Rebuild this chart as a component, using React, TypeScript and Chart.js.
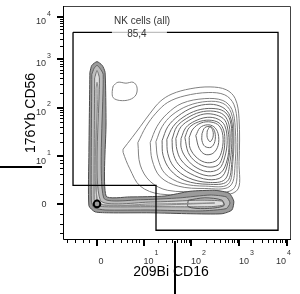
import React, { useEffect, useRef } from 'react';
import { Chart, registerables } from 'chart.js';
Chart.register(...registerables);

type P = [number, number];

// Axes are biexponential: values are in display units (0 = zero, k = 10^k)
const X_MIN = -0.716, X_MAX = 4.084;
const Y_MIN = -0.771, Y_MAX = 4.229;
const xTickPos = [0, 0.98, 1.98, 2.99, 4.0];
const yTickPos = [0, 1.02, 2.06, 3.1, 4.0];
const tickBase = ['0', '10', '10', '10', '10'];
const tickExp = ['', '1', '2', '3', '4'];
const xMinorLinear = [-0.63, -0.46, -0.29, -0.17, 0.17, 0.34, 0.51, 0.63, 0.74, 0.82, 0.88];
const yMinorLinear = [-0.63, -0.42, -0.21, 0.21, 0.42, 0.63, 0.77, 0.875, 0.94];
const xTitle = '209Bi CD16';
const yTitle = '176Yb CD56';
const gateName = 'NK cells (all)';
const gateFreq = '85,4';
const gateLabelX = 0.84;
const gateNameX = 0.95;

const gate: P[] = [[-0.505, 3.667], [3.811, 3.667], [3.811, -0.5625], [1.242, -0.5625], [1.242, 0.396], [-0.505, 0.396], [-0.505, 3.667]];

// CD16- CD56+ column and CD56- CD16 row (L-shaped band)
const band1: P[] = [[-0.15, 2.81], [-0.11, 2.96], [0, 3.04], [0.11, 2.96], [0.17, 2.81], [0.19, 1.73], [0.19, 0.17], [0.69, 0.15], [1.43, 0.17], [1.96, 0.27], [2.48, 0.29], [2.78, 0.23], [2.88, 0.06], [2.84, -0.13], [2.63, -0.21], [1.96, -0.21], [1.12, -0.19], [0.27, -0.19], [-0.04, -0.17], [-0.17, -0.04], [-0.17, 1.10]];
const band2: P[] = [[-0.11, 2.77], [-0.06, 2.90], [0, 2.96], [0.06, 2.90], [0.13, 2.77], [0.14, 0.13], [0.91, 0.09], [1.75, 0.13], [2.38, 0.19], [2.72, 0.15], [2.80, 0.02], [2.72, -0.10], [2.17, -0.15], [1.12, -0.13], [0.17, -0.13], [-0.06, -0.08], [-0.12, 0.06]];
const band3: P[] = [[-0.05, 2.69], [0, 2.85], [0.05, 2.69], [0.07, 0.08], [1.12, 0.04], [2.17, 0.08], [2.63, 0.06], [2.67, -0.02], [2.38, -0.06], [1.12, -0.06], [0.15, -0.06], [-0.02, -0.02], [-0.06, 0.10]];
const band4: P[] = [[-0.02, 2.46], [0, 2.60], [0.02, 2.46], [0.03, 0.04], [1.12, 0], [2.48, 0.02], [1.12, -0.03], [0.06, -0.02], [-0.01, 0.02]];
const bandLow: P[] = [[1.92, 0.08], [2.27, 0.13], [2.63, 0.08], [2.67, -0.04], [2.27, -0.10], [1.92, -0.06]];

// small isolated island
const island: P[] = [[0.34, 2.52], [0.44, 2.60], [0.61, 2.58], [0.76, 2.60], [0.84, 2.50], [0.82, 2.33], [0.69, 2.23], [0.48, 2.21], [0.34, 2.27], [0.32, 2.40]];

// CD16+ CD56dim population rings (outer to inner)
const blob1: P[] = [[0.55, 1.17], [0.74, 1.42], [0.91, 1.65], [1.12, 1.94], [1.33, 2.19], [1.58, 2.35], [1.96, 2.46], [2.38, 2.50], [2.72, 2.44], [2.91, 2.25], [2.99, 1.83], [2.99, 0.90], [2.93, 0.27], [2.17, 0.21], [1.33, 0.21], [0.91, 0.38], [0.69, 0.75], [0.55, 1.10]];
const blob2: P[] = [[0.86, 1.31], [1.03, 1.65], [1.24, 1.94], [1.49, 2.17], [1.85, 2.31], [2.34, 2.38], [2.69, 2.33], [2.88, 2.13], [2.95, 1.73], [2.95, 0.90], [2.86, 0.31], [2.17, 0.27], [1.49, 0.29], [1.12, 0.48], [0.91, 0.83]];
const blob3: P[] = [[1.12, 1.31], [1.26, 1.65], [1.47, 1.92], [1.79, 2.15], [2.27, 2.25], [2.65, 2.21], [2.84, 2.02], [2.91, 1.63], [2.91, 0.90], [2.80, 0.38], [2.27, 0.33], [1.71, 0.38], [1.33, 0.58], [1.16, 0.94]];
const blob3b: P[] = [[1.24, 1.33], [1.37, 1.65], [1.58, 1.90], [1.92, 2.10], [2.32, 2.19], [2.65, 2.15], [2.82, 1.96], [2.88, 1.56], [2.86, 0.90], [2.76, 0.42], [2.29, 0.38], [1.79, 0.44], [1.43, 0.65], [1.28, 0.98]];
const blob4: P[] = [[1.37, 1.35], [1.49, 1.65], [1.71, 1.88], [2.02, 2.06], [2.38, 2.13], [2.65, 2.06], [2.80, 1.88], [2.86, 1.52], [2.84, 0.90], [2.74, 0.48], [2.34, 0.42], [1.85, 0.50], [1.54, 0.73], [1.39, 1.04]];
const blob4b: P[] = [[1.47, 1.38], [1.60, 1.65], [1.81, 1.85], [2.11, 2.00], [2.42, 2.04], [2.67, 1.98], [2.80, 1.79], [2.84, 1.42], [2.80, 0.90], [2.69, 0.52], [2.34, 0.46], [1.92, 0.56], [1.62, 0.79], [1.49, 1.08]];
const blob5: P[] = [[1.58, 1.38], [1.68, 1.65], [1.89, 1.83], [2.17, 1.96], [2.46, 1.98], [2.67, 1.90], [2.78, 1.69], [2.80, 1.31], [2.76, 0.90], [2.63, 0.58], [2.34, 0.52], [1.96, 0.65], [1.71, 0.85], [1.60, 1.10]];
const blob5b: P[] = [[1.66, 1.40], [1.77, 1.65], [1.98, 1.81], [2.25, 1.92], [2.51, 1.90], [2.69, 1.79], [2.76, 1.56], [2.78, 1.27], [2.74, 0.94], [2.61, 0.67], [2.34, 0.60], [2.00, 0.73], [1.77, 0.94], [1.68, 1.17]];
const blob6: P[] = [[1.77, 1.40], [1.87, 1.63], [2.06, 1.77], [2.32, 1.85], [2.55, 1.81], [2.69, 1.67], [2.74, 1.35], [2.69, 1.00], [2.57, 0.75], [2.32, 0.69], [2.04, 0.81], [1.85, 1.02], [1.77, 1.21]];
const blob6b: P[] = [[1.85, 1.42], [1.94, 1.63], [2.13, 1.75], [2.36, 1.79], [2.57, 1.73], [2.67, 1.56], [2.69, 1.31], [2.65, 1.04], [2.55, 0.83], [2.32, 0.79], [2.08, 0.90], [1.92, 1.10]];
const blob7: P[] = [[1.94, 1.42], [2.02, 1.60], [2.19, 1.73], [2.40, 1.75], [2.57, 1.67], [2.65, 1.46], [2.63, 1.15], [2.53, 0.94], [2.32, 0.88], [2.11, 0.98], [1.96, 1.19]];
const blob8: P[] = [[2.08, 1.46], [2.17, 1.63], [2.32, 1.69], [2.46, 1.65], [2.55, 1.50], [2.55, 1.25], [2.44, 1.08], [2.27, 1.06], [2.15, 1.19]];
const blob9: P[] = [[2.21, 1.50], [2.27, 1.63], [2.40, 1.65], [2.48, 1.54], [2.48, 1.33], [2.40, 1.21], [2.27, 1.23], [2.21, 1.35]];
const blob10: P[] = [[2.32, 1.56], [2.38, 1.65], [2.44, 1.56], [2.44, 1.42], [2.38, 1.33], [2.32, 1.42]];

const origin: P[] = [[0, 0]];

const FONT = '"Liberation Sans", Arial, sans-serif';

function ring(pts: P[], color: string, width = 1, fillColor?: string, tension = 0.35) {
  return {
    data: [...pts, pts[0]].map(([x, y]) => ({ x, y })),
    showLine: true,
    borderColor: color,
    borderWidth: width,
    pointRadius: 0,
    tension,
    fill: fillColor ? 'shape' : false,
    backgroundColor: fillColor ?? 'transparent',
  };
}

const deco = {
  id: 'deco',
  afterDraw(chart: any) {
    const { ctx, chartArea: a, scales } = chart;
    const x = scales.x, y = scales.y;
    ctx.save();
    // frame
    ctx.lineWidth = 1;
    ctx.strokeStyle = '#444';
    ctx.beginPath();
    ctx.moveTo(a.left + 0.5, a.top + 0.5);
    ctx.lineTo(a.right - 0.5, a.top + 0.5);
    ctx.lineTo(a.right - 0.5, a.bottom - 0.5);
    ctx.stroke();
    ctx.strokeStyle = '#000';
    ctx.beginPath();
    ctx.moveTo(a.left + 0.5, a.top);
    ctx.lineTo(a.left + 0.5, a.bottom - 0.5);
    ctx.lineTo(a.right, a.bottom - 0.5);
    ctx.stroke();

    // minor ticks
    const xMinor = [...xMinorLinear];
    const yMinor = [...yMinorLinear];
    for (let k = 1; k < 4; k++) {
      for (let m = 2; m <= 9; m++) {
        xMinor.push(xTickPos[k] + Math.log10(m) * (xTickPos[k + 1] - xTickPos[k]));
        yMinor.push(yTickPos[k] + Math.log10(m) * (yTickPos[k + 1] - yTickPos[k]));
      }
    }
    ctx.strokeStyle = '#000';
    ctx.lineWidth = 1;
    ctx.beginPath();
    xMinor.forEach((v) => {
      const px = Math.round(x.getPixelForValue(v)) + 0.5;
      ctx.moveTo(px, a.bottom);
      ctx.lineTo(px, a.bottom + 3);
    });
    yMinor.forEach((v) => {
      const py = Math.round(y.getPixelForValue(v)) + 0.5;
      ctx.moveTo(a.left - 3, py);
      ctx.lineTo(a.left, py);
    });
    ctx.stroke();
    // major ticks
    ctx.lineWidth = 2;
    ctx.beginPath();
    xTickPos.forEach((v) => {
      const px = Math.round(x.getPixelForValue(v));
      ctx.moveTo(px, a.bottom);
      ctx.lineTo(px, a.bottom + 6);
    });
    yTickPos.forEach((v) => {
      const py = Math.round(y.getPixelForValue(v));
      ctx.moveTo(a.left - 6, py);
      ctx.lineTo(a.left, py);
    });
    ctx.stroke();

    // tick labels
    ctx.fillStyle = '#333';
    ctx.textBaseline = 'middle';
    xTickPos.forEach((v, i) => {
      const px = x.getPixelForValue(v);
      ctx.font = `9px ${FONT}`;
      const wb = ctx.measureText(tickBase[i]).width;
      if (!tickExp[i]) {
        ctx.textAlign = 'center';
        ctx.fillText(tickBase[i], px + 4, a.bottom + 22);
        return;
      }
      ctx.font = `7px ${FONT}`;
      const we = ctx.measureText(tickExp[i]).width;
      let left = px + 5 - wb / 2;
      const total = wb + 1 + we;
      if (left + total > a.right) left = a.right - total;
      ctx.textAlign = 'left';
      ctx.font = `9px ${FONT}`;
      ctx.fillText(tickBase[i], left, a.bottom + 22);
      ctx.font = `7px ${FONT}`;
      ctx.fillText(tickExp[i], left + wb + 1, a.bottom + 13);
    });
    yTickPos.forEach((v, i) => {
      const py = y.getPixelForValue(v);
      ctx.font = `9px ${FONT}`;
      ctx.textAlign = 'right';
      if (!tickExp[i]) {
        ctx.fillText(tickBase[i], a.left - 16.5, py + 1);
        return;
      }
      ctx.fillText(tickBase[i], a.left - 17, py + 5);
      ctx.font = `7px ${FONT}`;
      ctx.textAlign = 'left';
      ctx.fillText(tickExp[i], a.left - 16, py - 3);
    });

    // axis titles
    ctx.fillStyle = '#000';
    ctx.font = `14px ${FONT}`;
    ctx.textAlign = 'center';
    ctx.fillText(xTitle, 171, 272);
    ctx.save();
    ctx.translate(31, 113);
    ctx.rotate(-Math.PI / 2);
    ctx.fillText(yTitle, 0, 0);
    ctx.restore();

    // gate labels
    const gy = y.getPixelForValue(gate[0][1]);
    const gx = x.getPixelForValue(gateLabelX);
    ctx.fillStyle = 'rgba(255,255,255,0.75)';
    ctx.fillRect(gx - 25, gy - 2, 55, 4);
    ctx.fillStyle = '#333';
    ctx.font = `10px ${FONT}`;
    ctx.fillText(gateFreq, gx, gy + 2);
    ctx.fillText(gateName, x.getPixelForValue(gateNameX), gy - 11);

    // stray panel lines from the original figure
    ctx.strokeStyle = '#000';
    ctx.lineWidth = 2;
    ctx.beginPath();
    ctx.moveTo(0, 167);
    ctx.lineTo(42, 167);
    ctx.moveTo(175, a.bottom + 1);
    ctx.lineTo(175, 294);
    ctx.stroke();
    ctx.restore();
  },
};

export default function App() {
  const ref = useRef<HTMLCanvasElement>(null);
  useEffect(() => {
    if (!ref.current) return;
    const outer = '#808080';
    const inner = '#666666';
    const chart = new Chart(ref.current, {
      type: 'scatter',
      data: {
        datasets: [
          ring(gate, '#000', 1.3, undefined, 0) as any,
          {
            data: origin.map(([x, y]) => ({ x, y })),
            pointRadius: 3.3,
            pointBorderWidth: 2,
            pointBorderColor: '#000',
            pointBackgroundColor: '#9a9a9a',
            showLine: false,
          },
          ring(band4, '#8a8a8a', 1, undefined, 0.2),
          ring(bandLow, '#555', 1, undefined, 0.3),
          ring(band3, '#707070', 1, '#dedede', 0.2),
          ring(band2, '#5e5e5e', 1, '#bdbdbd', 0.2),
          ring(band1, '#4a4a4a', 1, '#9b9b9b', 0.2),
          ring(island, outer),
          ring(blob10, inner),
          ring(blob9, inner),
          ring(blob8, inner),
          ring(blob7, inner),
          ring(blob6b, inner),
          ring(blob6, inner),
          ring(blob5b, inner),
          ring(blob5, inner),
          ring(blob4b, inner),
          ring(blob4, inner),
          ring(blob3b, outer),
          ring(blob3, outer),
          ring(blob2, outer),
          ring(blob1, outer),
        ],
      },
      options: {
        animation: false,
        responsive: false,
        devicePixelRatio: 1,
        layout: { padding: { left: 63, right: 9, top: 0, bottom: 54 } },
        plugins: { legend: { display: false }, tooltip: { enabled: false } },
        scales: {
          x: { type: 'linear', min: X_MIN, max: X_MAX, display: false },
          y: { type: 'linear', min: Y_MIN, max: Y_MAX, display: false },
        },
      },
      plugins: [deco],
    });
    return () => chart.destroy();
  }, []);
  return (
    <div style={{ position: 'fixed', left: 0, top: 0, width: 300, height: 294, background: '#fff' }}>
      <canvas ref={ref} width={300} height={294} style={{ width: 300, height: 294 }} />
    </div>
  );
}
